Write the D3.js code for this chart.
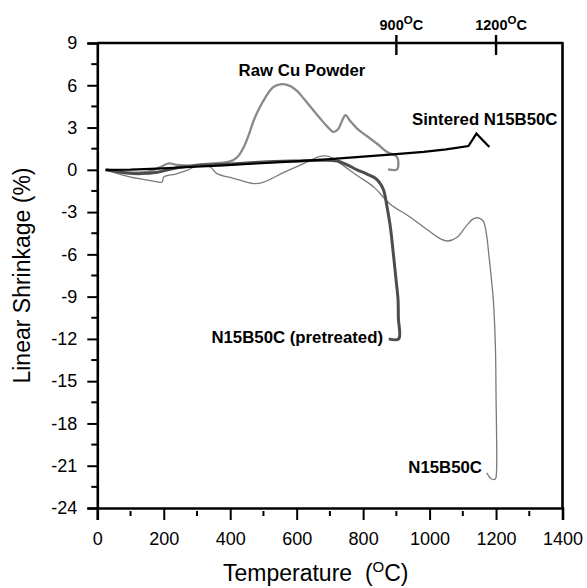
<!DOCTYPE html>
<html><head><meta charset="utf-8">
<script src="https://cdn.jsdelivr.net/npm/d3@7"></script>
<style>
html,body{margin:0;padding:0;background:#fff;}
svg{display:block;font-family:"Liberation Sans",Arial,sans-serif;}
</style></head>
<body>
<svg id="chart" width="587" height="588"></svg>
<script>
// ---- data (temperature °C, linear shrinkage %) ----
const xTicks = [0,200,400,600,800,1000,1200,1400];
const yTicks = [9,6,3,0,-3,-6,-9,-12,-15,-18,-21,-24];
const topMarks = [900,1200];

const sinteredT = [25,100,180,280,380,480,580,680,780,880,982,1050,1117,1141,1160,1180];
const sinteredV = [0,0.02,0.09,0.2,0.32,0.45,0.58,0.73,0.9,1.08,1.27,1.45,1.69,2.57,2.1,1.62];

const rawCuT = [25,60,100,150,190,215,240,280,310,350,390,410,425,441,456,471,486,501,516,531,556,581,601,621,646,671,691,711,725,737,747,760,782,812,842,872,902,902,875];
const rawCuV = [0,-0.1,-0.2,-0.15,0.2,0.45,0.35,0.3,0.39,0.45,0.55,0.7,1.0,1.62,2.5,3.52,4.3,4.94,5.5,5.89,6.08,5.94,5.6,5.06,4.35,3.64,3.1,2.69,2.9,3.5,3.88,3.5,2.93,2.38,1.85,1.27,0.91,0.03,0.03];

const pretreatedT = [25,80,130,180,230,300,400,500,600,680,722,752,782,812,837,852,862,872,882,892,900,905,906,907,877];
const pretreatedV = [0,-0.2,-0.27,-0.18,0.1,0.3,0.42,0.55,0.63,0.68,0.63,0.35,0,-0.3,-0.6,-1.0,-1.46,-2.64,-4.07,-6.2,-8.0,-9.2,-10.5,-12.0,-12.0];

const n15T = [25,79,130,180,195,200,235,270,310,340,360,410,471,501,560,621,671,702,732,782,832,880,942,990,1033,1055,1083,1110,1130,1143,1155,1163,1172,1178,1185,1192,1198,1200,1201,1198,1188,1180,1172];
const n15V = [0,-0.39,-0.65,-0.85,-0.87,-0.51,-0.3,-0.04,0.39,0.2,-0.27,-0.6,-0.98,-0.87,-0.2,0.44,0.96,0.91,0.44,-0.4,-1.22,-2.4,-3.36,-4.2,-4.9,-5.05,-4.78,-4.0,-3.5,-3.4,-3.5,-3.71,-4.7,-5.96,-7.5,-9.3,-12.5,-16,-21.6,-21.95,-21.96,-21.8,-21.5];

const labels = ["Raw Cu Powder","Sintered N15B50C","N15B50C (pretreated)","N15B50C"];

// ---- layout ----
const svg = d3.select("#chart");
const x = d3.scaleLinear().domain([0,1400]).range([97.3,562.5]);
const y = d3.scaleLinear().domain([-24,9]).range([508,43]);
const zip = (a,b) => a.map((t,i)=>[t,b[i]]);
const line = d3.line().x(d=>x(d[0])).y(d=>y(d[1])).curve(d3.curveCatmullRom.alpha(0.5));

// curves
svg.append("path").datum(zip(n15T,n15V)).attr("d",line)
  .attr("fill","none").attr("stroke","#7a7a7a").attr("stroke-width",1.3);
svg.append("path").datum(zip(rawCuT,rawCuV)).attr("d",line)
  .attr("fill","none").attr("stroke","#8a8a8a").attr("stroke-width",2.3).attr("stroke-linejoin","round");
svg.append("path").datum(zip(pretreatedT,pretreatedV)).attr("d",line)
  .attr("fill","none").attr("stroke","#4d4d4d").attr("stroke-width",3).attr("stroke-linejoin","round");
svg.append("path").datum(zip(sinteredT,sinteredV)).attr("d",d3.line().x(d=>x(d[0])).y(d=>y(d[1])))
  .attr("fill","none").attr("stroke","#000").attr("stroke-width",2.2);

// frame
const fr = svg.append("g").attr("stroke","#000").attr("stroke-width",2.6).attr("fill","none");
fr.append("line").attr("x1",x(0)).attr("x2",x(1400)).attr("y1",y(9)).attr("y2",y(9));
fr.append("line").attr("x1",x(1400)).attr("x2",x(1400)).attr("y1",y(9)-1).attr("y2",y(-24));

const fmt = d => String(d);

// bottom axis
const xAxis = d3.axisBottom(x).tickValues(xTicks).tickSize(12).tickPadding(12).tickFormat(fmt);
const gx = svg.append("g").attr("transform",`translate(0,${y(-24)})`).call(xAxis);
gx.select(".domain").attr("stroke-width",2.6);
gx.selectAll(".tick line").attr("stroke-width",2);
gx.selectAll(".tick text").attr("font-size",18).attr("font-family","Liberation Sans, Arial, sans-serif");
const xMinor = d3.range(100,1400,200);
svg.append("g").selectAll("line").data(xMinor).join("line")
  .attr("x1",d=>x(d)).attr("x2",d=>x(d)).attr("y1",y(-24)+3).attr("y2",y(-24)+8)
  .attr("stroke","#000").attr("stroke-width",2);

// left axis
const yAxis = d3.axisLeft(y).tickValues(yTicks).tickSize(10).tickPadding(10).tickFormat(fmt);
const gy = svg.append("g").attr("transform",`translate(${x(0)},0)`).call(yAxis);
gy.select(".domain").attr("stroke-width",2.6);
gy.selectAll(".tick line").attr("stroke-width",2);
gy.selectAll(".tick text").attr("font-size",18).attr("font-family","Liberation Sans, Arial, sans-serif");
const yMinor = d3.range(-22.5,9,3);
svg.append("g").selectAll("line").data(yMinor).join("line")
  .attr("x1",x(0)-6).attr("x2",x(0)).attr("y1",d=>y(d)).attr("y2",d=>y(d))
  .attr("stroke","#000").attr("stroke-width",2);

// top marks
const tm = svg.append("g").selectAll("g").data(topMarks).join("g");
tm.append("line").attr("x1",d=>x(d)).attr("x2",d=>x(d)).attr("y1",y(9)-8).attr("y2",y(9)+12)
  .attr("stroke","#000").attr("stroke-width",2.4);
const tt = tm.append("text").attr("x",d=>x(d)+5).attr("y",30).attr("text-anchor","middle")
  .attr("font-size",14.5).attr("font-weight","bold");
tt.append("tspan").text(d=>d);
tt.append("tspan").attr("font-size",11.5).attr("dy",-6).text("O");
tt.append("tspan").attr("dy",6).text("C");

// axis titles
svg.append("text").attr("transform",`translate(30,${(y(9)+y(-24))/2}) rotate(-90)`)
  .attr("text-anchor","middle").attr("font-size",23).text("Linear Shrinkage (%)");
const xt = svg.append("text").attr("x",223).attr("y",581).attr("font-size",23).style("white-space","pre");
xt.append("tspan").text("Temperature  (");
xt.append("tspan").attr("font-size",15).attr("dy",-9).text("O");
xt.append("tspan").attr("dy",9).text("C)");

// curve labels
const lab = svg.append("g").attr("font-weight","bold").attr("font-size",16.8);
lab.append("text").attr("x",302).attr("y",76).attr("text-anchor","middle").text(labels[0]);
lab.append("text").attr("x",412).attr("y",125).text(labels[1]);
lab.append("text").attr("x",383).attr("y",343).attr("text-anchor","end").text(labels[2]);
lab.append("text").attr("x",482).attr("y",473).attr("text-anchor","end").text(labels[3]);
</script>
</body></html>
